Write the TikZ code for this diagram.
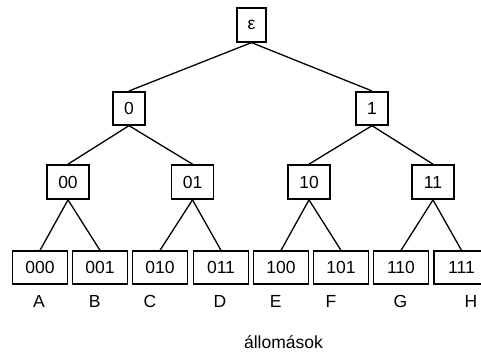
\documentclass[tikz,border=0pt]{standalone}
\usepackage{fontspec}
\setmainfont{Liberation Sans}
\begin{document}
\begin{tikzpicture}[x=1pt,y=-1pt,
  box/.style={draw,line width=1.7pt,inner sep=0pt,font=\fontsize{17.5}{20}\selectfont},
  leaf/.style={box,minimum width=55pt,minimum height=33pt},
  lvtwo/.style={box,minimum width=42pt,minimum height=34pt},
  lvone/.style={box,minimum width=32pt,minimum height=33pt},
  lbl/.style={inner sep=0pt,font=\fontsize{17.5}{20}\selectfont},
  edge/.style={line width=1.3pt}]
\useasboundingbox (0,0) rectangle (481,357);
\node[box,minimum width=29.5pt,minimum height=33.5pt] (r) at (251.5,25) {ε};
\node[lvone] (n0) at (129,108.3) {0};
\node[lvone] (n1) at (372,108.3) {1};
\node[lvtwo] (n00) at (68,182) {00};
\node[lvtwo] (n01) at (192.5,182) {01};
\node[lvtwo] (n10) at (309,182) {10};
\node[lvtwo] (n11) at (433,182) {11};
\node[leaf] (l000) at (40,267.7) {000};
\node[leaf] (l001) at (100,267.7) {001};
\node[leaf] (l010) at (160,267.7) {010};
\node[leaf] (l011) at (221,267.7) {011};
\node[leaf] (l100) at (281,267.7) {100};
\node[leaf] (l101) at (341,267.7) {101};
\node[leaf] (l110) at (401,267.7) {110};
\node[leaf] (l111) at (461.5,267.7) {111};
\foreach \p/\c in {r/n0,r/n1,n0/n00,n0/n01,n1/n10,n1/n11,
  n00/l000,n00/l001,n01/l010,n01/l011,n10/l100,n10/l101,n11/l110,n11/l111}
  \draw[edge] (\p.south) -- (\c.north);
\node[lbl] (la) at (39,301) {A};
\node[lbl] (lb) at (94.7,301) {B};
\node[lbl] (lc) at (150,301) {C};
\node[lbl] (ld) at (220,301) {D};
\node[lbl] (le) at (275.8,301) {E};
\node[lbl] (lf) at (331,301) {F};
\node[lbl] (lg) at (400.5,301) {G};
\node[lbl] (lh) at (471,301) {H};
\node[lbl] (st) at (283.5,342) {állomások};
\end{tikzpicture}
\end{document}
